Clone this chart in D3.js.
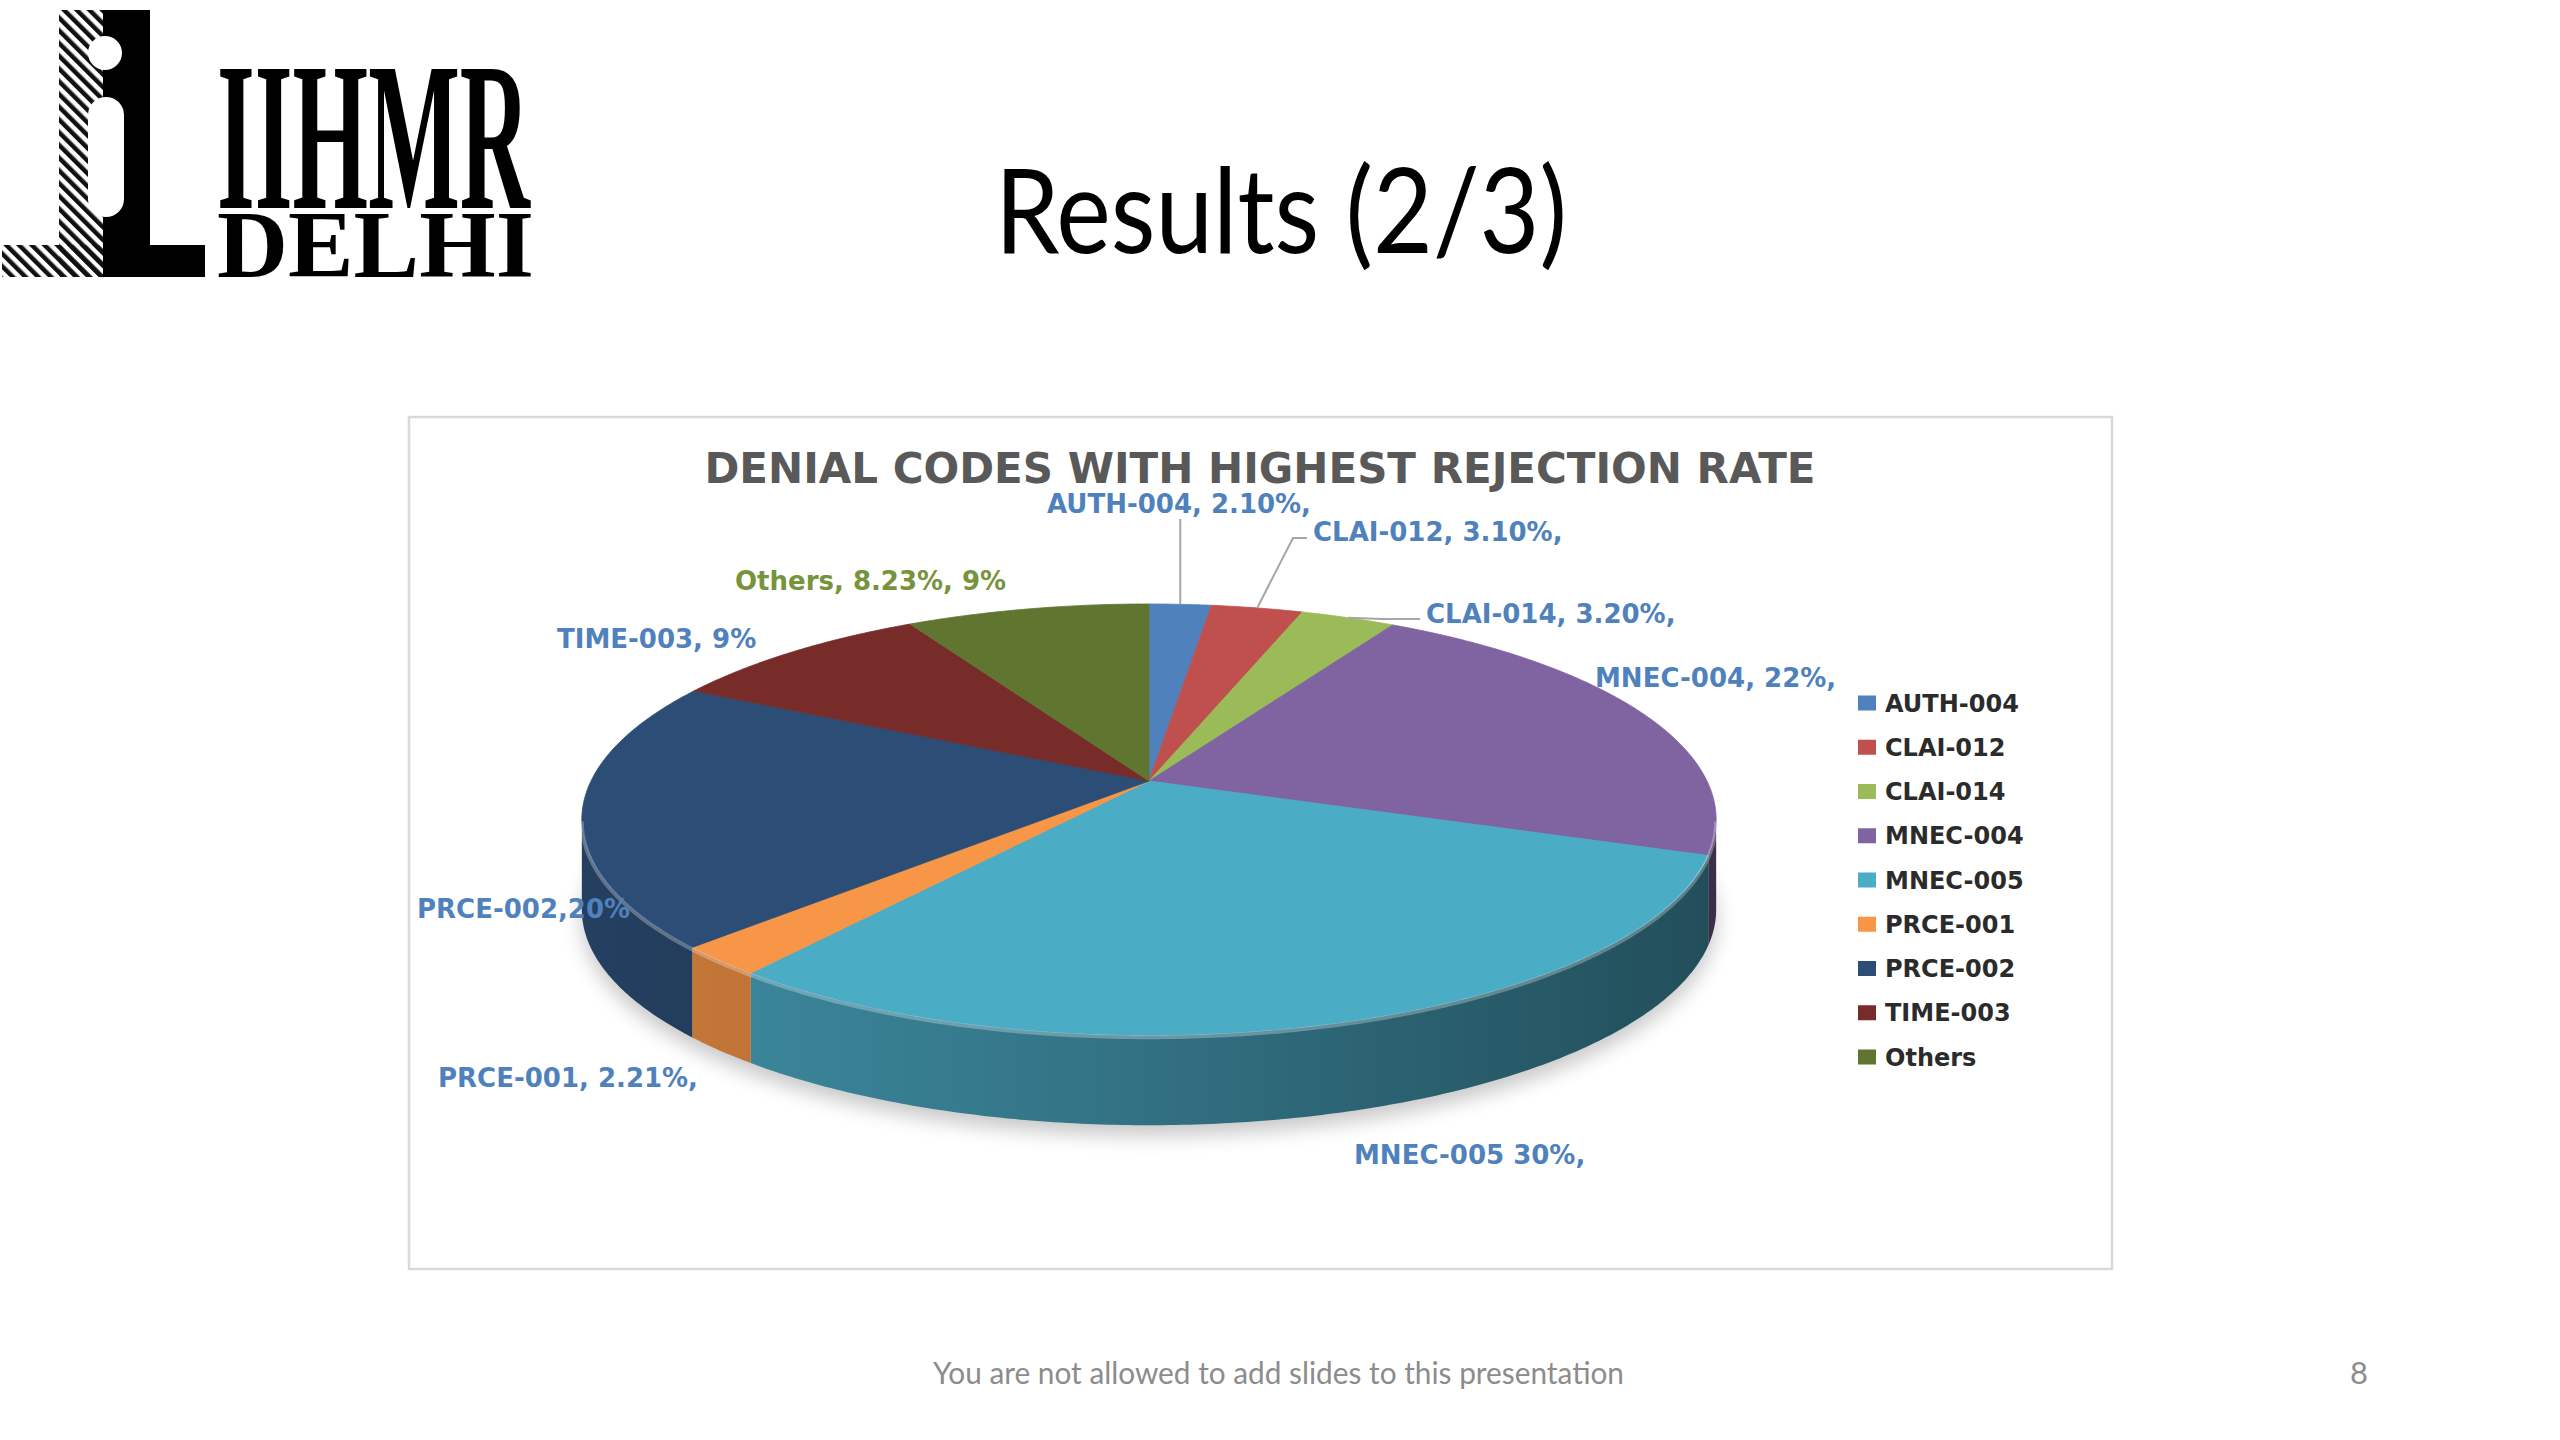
<!DOCTYPE html>
<html>
<head>
<meta charset="utf-8">
<script src="https://cdn.jsdelivr.net/npm/d3@7"></script>
<style>
  html, body { margin: 0; padding: 0; background: #fff; }
  svg { display: block; }
</style>
</head>
<body>
<div id="slide"></div>
<script>
// denial codes, clockwise from 12 o'clock
const codes = ["AUTH-004", "CLAI-012", "CLAI-014", "MNEC-004", "MNEC-005", "PRCE-001", "PRCE-002", "TIME-003", "Others"];
const shares = [2.10, 3.10, 3.20, 22, 30, 2.21, 20, 9, 8.23];
const labelTexts = ["AUTH-004, 2.10%,", "CLAI-012, 3.10%,", "CLAI-014, 3.20%,", "MNEC-004, 22%,", "MNEC-005 30%,",
                    "PRCE-001, 2.21%,", "PRCE-002,20%", "TIME-003, 9%", "Others, 8.23%, 9%"];

const palette = ["#4f81bd", "#c0504d", "#9bbb59", "#8064a2", "#4bacc6", "#f79646", "#2c4d75", "#772c2a", "#5f7530"];
const color = d3.scaleOrdinal(codes, palette);

// where Excel left the data labels (left x, baseline y) on the slide
const labelAt = [[1047, 513], [1313, 541], [1426, 623], [1595, 687], [1354, 1164],
                 [438, 1087], [417, 918], [557, 648], [735, 590]];

const W = 2560, H = 1440;
const svg = d3.select("#slide").append("svg")
    .attr("width", W)
    .attr("height", H);

const defs = svg.append("defs");

// ---------- logo ----------
defs.append("pattern")
    .attr("id", "hatch")
    .attr("patternUnits", "userSpaceOnUse")
    .attr("width", 9).attr("height", 9)
    .attr("patternTransform", "rotate(-45)")
  .append("rect")
    .attr("width", 4.5).attr("height", 9)
    .attr("fill", "#111");

const logo = svg.append("g").attr("class", "logo");
logo.append("rect").attr("x", 59).attr("y", 10).attr("width", 46).attr("height", 267).attr("fill", "#fff");
logo.append("rect").attr("x", 2).attr("y", 245).attr("width", 103).attr("height", 32).attr("fill", "#fff");
logo.append("rect").attr("x", 59).attr("y", 10).attr("width", 46).attr("height", 267).attr("fill", "url(#hatch)");
logo.append("rect").attr("x", 2).attr("y", 245).attr("width", 103).attr("height", 32).attr("fill", "url(#hatch)");
logo.append("path")
    .attr("d", "M103,10H150V245H205V277H103Z")
    .attr("fill", "#000");
logo.append("circle").attr("cx", 105).attr("cy", 53).attr("r", 17).attr("fill", "#fff");
logo.append("rect").attr("x", 88).attr("y", 97).attr("width", 36).attr("height", 120).attr("rx", 18).attr("fill", "#fff");
logo.append("text")
    .attr("x", 217).attr("y", 208)
    .attr("textLength", 313).attr("lengthAdjust", "spacingAndGlyphs")
    .style("font-family", "'Liberation Serif', serif")
    .style("font-weight", "bold")
    .style("font-size", "213px")
    .text("IIHMR");
logo.append("text")
    .attr("x", 217).attr("y", 277)
    .attr("textLength", 317).attr("lengthAdjust", "spacingAndGlyphs")
    .style("font-family", "'Liberation Serif', serif")
    .style("font-weight", "bold")
    .style("font-size", "95px")
    .text("DELHI");

// ---------- slide title and footer ----------
svg.append("text")
    .attr("x", 995).attr("y", 253)
    .attr("textLength", 572).attr("lengthAdjust", "spacingAndGlyphs")
    .style("font-family", "Lato, sans-serif")
    .style("font-size", "118px")
    .attr("fill", "#000")
    .text("Results (2/3)");

svg.append("text")
    .attr("x", 933).attr("y", 1384)
    .attr("textLength", 691).attr("lengthAdjust", "spacingAndGlyphs")
    .style("font-family", "Lato, sans-serif")
    .style("font-size", "31px")
    .attr("fill", "#8c8c8c")
    .text("You are not allowed to add slides to this presentation");

svg.append("text")
    .attr("x", 2350).attr("y", 1384)
    .style("font-family", "Lato, sans-serif")
    .style("font-size", "31px")
    .attr("fill", "#8c8c8c")
    .text("8");

// ---------- chart area ----------
svg.append("rect")
    .attr("x", 409).attr("y", 417)
    .attr("width", 1703).attr("height", 852)
    .attr("fill", "#fff")
    .attr("stroke", "#d9d9d9")
    .attr("stroke-width", 2.5);

svg.append("text")
    .attr("x", 1260).attr("y", 483)
    .attr("text-anchor", "middle")
    .style("font-family", "'DejaVu Sans', sans-serif")
    .style("font-weight", "bold")
    .style("font-size", "42px")
    .attr("fill", "#595959")
    .text("DENIAL CODES WITH HIGHEST REJECTION RATE");

// 3-D pie: disc seen in perspective, then extruded down
const cx = 1149, cy = 781, rx = 558, ry = 208.7, persp = 0.179, depth = 90;

function proj(theta, dy) {
  const X = Math.sin(theta), Z = Math.cos(theta);
  const f = 1 / (1 + persp * Z);
  return [cx + rx * X * f, cy - ry * Z * f + (dy || 0)];
}
function arcPts(a0, a1, dy) {
  const n = Math.max(2, Math.ceil(Math.abs(a1 - a0) / 0.01));
  return d3.range(n + 1).map(i => proj(a0 + (a1 - a0) * i / n, dy));
}

const arcs = d3.pie().sort(null).value(d => d)(shares);
const line = d3.line();

// silhouette of the front rim
const s0 = Math.acos(-persp), s1 = 2 * Math.PI - Math.acos(-persp);
const xLeft = proj(s1)[0], xRight = proj(s0)[0];

defs.append("filter").attr("id", "blur")
    .attr("x", "-20%").attr("y", "-20%").attr("width", "140%").attr("height", "140%")
  .append("feGaussianBlur").attr("stdDeviation", 10);

const pie = svg.append("g").attr("class", "pie");

// soft shadow under the disc
pie.append("path")
    .attr("d", line(arcPts(0, 2 * Math.PI, depth + 10)) + "Z")
    .attr("fill", "#000")
    .attr("opacity", 0.22)
    .attr("filter", "url(#blur)");

// side gradients, lit from the left
arcs.forEach((a, i) => {
  const base = d3.color(color(codes[i]));
  const g = defs.append("linearGradient")
      .attr("id", "side" + i)
      .attr("gradientUnits", "userSpaceOnUse")
      .attr("x1", xLeft).attr("x2", xRight)
      .attr("y1", 0).attr("y2", 0);
  [[0, 0.55], [0.45, 1.1], [1, 2.2]].forEach(([o, k]) => {
    g.append("stop").attr("offset", o).attr("stop-color", base.darker(k));
  });
});

pie.append("g").attr("class", "sides")
  .selectAll("path")
  .data(arcs.filter(a => Math.min(a.endAngle, s1) > Math.max(a.startAngle, s0)))
  .join("path")
    .attr("d", a => {
      const lo = Math.max(a.startAngle, s0), hi = Math.min(a.endAngle, s1);
      return line(arcPts(lo, hi, 0).concat(arcPts(hi, lo, depth))) + "Z";
    })
    .attr("fill", a => "url(#side" + a.index + ")");

pie.append("g").attr("class", "tops")
  .selectAll("path")
  .data(arcs)
  .join("path")
    .attr("d", a => line([[cx, cy]].concat(arcPts(a.startAngle, a.endAngle, 0))) + "Z")
    .attr("fill", a => color(codes[a.index]))
    .attr("stroke", a => color(codes[a.index]))
    .attr("stroke-width", 0.8);

// bevel highlight on the front rim
pie.append("path")
    .attr("d", line(arcPts(s0, s1, 2)))
    .attr("fill", "none")
    .attr("stroke", "#fff")
    .attr("stroke-opacity", 0.28)
    .attr("stroke-width", 4);

// ---------- data labels ----------
const leaders = [
  { i: 0, from: a => [proj((a.startAngle + a.endAngle) / 2)[0], labelAt[0][1] + 6] },
  { i: 1, from: () => [labelAt[1][0] - 6, labelAt[1][1] - 3], elbow: 14 },
  { i: 2, from: () => [labelAt[2][0] - 6, labelAt[2][1] - 4], elbow: 38 }
];
svg.append("g").attr("class", "leaders")
  .selectAll("path")
  .data(leaders)
  .join("path")
    .attr("d", l => {
      const a = arcs[l.i];
      const end = proj((a.startAngle + a.endAngle) / 2);
      const start = l.from(a);
      const pts = [start];
      if (l.elbow) pts.push([start[0] - l.elbow, start[1]]);
      pts.push(end);
      return line(pts);
    })
    .attr("fill", "none")
    .attr("stroke", "#a6a6a6")
    .attr("stroke-width", 2);

svg.append("g").attr("class", "labels")
  .selectAll("text")
  .data(labelTexts)
  .join("text")
    .attr("x", (d, i) => labelAt[i][0])
    .attr("y", (d, i) => labelAt[i][1])
    .style("font-family", "'DejaVu Sans', sans-serif")
    .style("font-weight", "bold")
    .style("font-size", "26px")
    .attr("fill", (d, i) => codes[i] === "Others" ? "#77933c" : "#4f81bd")
    .text(d => d);

// ---------- legend ----------
const ly = d3.scalePoint().domain(codes).range([703, 703 + 8 * 44.25]);
const legend = svg.append("g").attr("class", "legend")
  .selectAll("g")
  .data(codes)
  .join("g")
    .attr("transform", d => `translate(1858,${ly(d)})`);
legend.append("rect")
    .attr("x", 0).attr("y", -7.5)
    .attr("width", 18).attr("height", 15)
    .attr("fill", d => color(d));
legend.append("text")
    .attr("x", 27).attr("y", 8.5)
    .style("font-family", "'DejaVu Sans', sans-serif")
    .style("font-weight", "bold")
    .style("font-size", "24px")
    .attr("fill", "#2b2b2b")
    .text(d => d);
</script>
</body>
</html>
